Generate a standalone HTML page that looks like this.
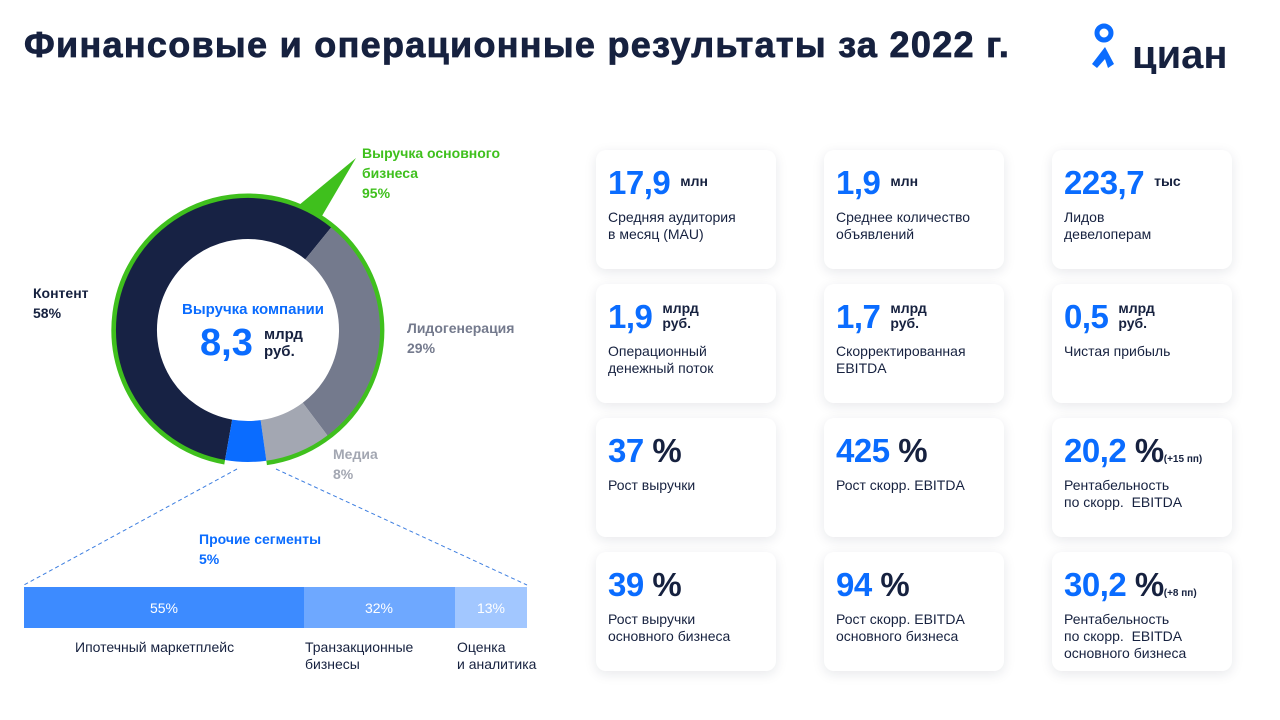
<!DOCTYPE html><html><head><meta charset="utf-8"><style>
body{margin:0;width:1280px;height:720px;background:#fff;font-family:"Liberation Sans","DejaVu Sans",sans-serif;position:relative;overflow:hidden;color:#16213f}
.a{position:absolute}
h1{position:absolute;left:24px;top:24px;margin:0;font-size:36px;font-weight:900;color:#16213f;letter-spacing:1.3px;white-space:nowrap;-webkit-text-stroke:0.8px #16213f}
.card{position:absolute;width:180px;height:119px;background:#fff;border-radius:10px;box-shadow:0 3px 12px rgba(20,30,60,0.10)}
.num{position:absolute;left:12px;top:14px;font-size:33px;font-weight:700;color:#0a6cff;letter-spacing:-0.5px;white-space:nowrap}
.num span{color:#16213f}
.u{font-size:14px;font-weight:700;color:#16213f;display:inline-block;vertical-align:top;letter-spacing:0;line-height:15px;margin-left:10px;margin-top:10px}
.d{position:absolute;left:12px;top:59px;font-size:14px;line-height:17px;color:#16213f}
.lbl{position:absolute;font-size:14px;font-weight:700;line-height:20px}
</style></head><body>
<h1>Финансовые и операционные результаты за 2022 г.</h1>
<svg class="a" style="left:1088px;top:22px" width="150" height="52">
<circle cx="16" cy="11" r="7" fill="none" stroke="#0a6cff" stroke-width="5"/>
<path d="M4 42 L17 25 L26 42 L20 46 L17 37 L9 46 Z" fill="#0a6cff"/>
<text x="44" y="46" font-family="Liberation Sans" font-weight="700" font-size="40" fill="#16213f">циан</text>
</svg>
<svg class="a" style="left:0;top:0" width="600" height="720">
<path d="M298.2 205.8 L356 158 L321 217.6 Z" fill="#3fc01d"/>
<path d="M224.7 462 A134 134 0 1 1 266.6 462.7" fill="none" stroke="#3fc01d" stroke-width="5"/>
<path d="M228.6 439.8 A111.5 111.5 0 1 1 318.2 243.4" fill="none" stroke="#172244" stroke-width="41"/>
<path d="M318.2 243.4 A111.5 111.5 0 0 1 315.1 419.1" fill="none" stroke="#747a8d" stroke-width="41"/>
<path d="M315.1 419.1 A111.5 111.5 0 0 1 263.5 440.4" fill="none" stroke="#a3a7b2" stroke-width="41"/>
<path d="M263.5 440.4 A111.5 111.5 0 0 1 228.6 439.8" fill="none" stroke="#0a6cff" stroke-width="41"/>
<line x1="237" y1="469" x2="24" y2="585" stroke="#3d7ee0" stroke-dasharray="4 3"/>
<line x1="276" y1="469" x2="527" y2="585" stroke="#3d7ee0" stroke-dasharray="4 3"/>
<rect x="24" y="587" width="280" height="41" fill="#3d8bff"/>
<rect x="304" y="587" width="151" height="41" fill="#6ea8ff"/>
<rect x="455" y="587" width="72" height="41" fill="#a2c7ff"/>
<g font-family="Liberation Sans" font-size="14" fill="#fff" text-anchor="middle">
<text x="164" y="613">55%</text><text x="379" y="613">32%</text><text x="491" y="613">13%</text></g>
<g font-family="Liberation Sans" font-size="14" fill="#16213f">
<text x="75" y="652">Ипотечный маркетплейс</text>
<text x="305" y="652">Транзакционные</text><text x="305" y="669">бизнесы</text>
<text x="457" y="652">Оценка</text><text x="457" y="669">и аналитика</text></g>
</svg>
<div class="lbl" style="left:362px;top:143px;color:#3fc01d">Выручка основного<br>бизнеса<br>95%</div>
<div class="lbl" style="left:33px;top:283px;color:#16213f">Контент<br>58%</div>
<div class="lbl" style="left:407px;top:318px;color:#747a8d">Лидогенерация<br>29%</div>
<div class="lbl" style="left:333px;top:444px;color:#a3a7b2">Медиа<br>8%</div>
<div class="lbl" style="left:199px;top:529px;color:#0a6cff">Прочие сегменты<br>5%</div>
<div class="lbl" style="left:168px;top:300px;color:#0a6cff;font-size:15px;width:170px;text-align:center">Выручка компании</div>
<div class="a" style="left:200px;top:322px;font-size:38px;font-weight:700;color:#0a6cff">8,3</div>
<div class="a" style="left:264px;top:326px;font-size:15px;font-weight:700;line-height:17px">млрд<br>руб.</div>

<div class="card" style="left:596px;top:150px"><div class="num">17,9<span class="u">млн</span></div><div class="d">Средняя аудитория<br>в месяц (MAU)</div></div>
<div class="card" style="left:824px;top:150px"><div class="num">1,9<span class="u">млн</span></div><div class="d">Среднее количество<br>объявлений</div></div>
<div class="card" style="left:1052px;top:150px"><div class="num">223,7<span class="u">тыс</span></div><div class="d">Лидов<br>девелоперам</div></div>

<div class="card" style="left:596px;top:284px"><div class="num">1,9<span class="u" style="margin-top:3px">млрд<br>руб.</span></div><div class="d">Операционный<br>денежный поток</div></div>
<div class="card" style="left:824px;top:284px"><div class="num">1,7<span class="u" style="margin-top:3px">млрд<br>руб.</span></div><div class="d">Скорректированная<br>EBITDA</div></div>
<div class="card" style="left:1052px;top:284px"><div class="num">0,5<span class="u" style="margin-top:3px">млрд<br>руб.</span></div><div class="d">Чистая прибыль</div></div>

<div class="card" style="left:596px;top:418px"><div class="num">37 <span>%</span></div><div class="d">Рост выручки</div></div>
<div class="card" style="left:824px;top:418px"><div class="num">425 <span>%</span></div><div class="d">Рост скорр. EBITDA</div></div>
<div class="card" style="left:1052px;top:418px"><div class="num">20,2 <span>%</span><span style="font-size:10px;letter-spacing:0;color:#16213f;font-weight:700">(+15 пп)</span></div><div class="d">Рентабельность<br>по скорр.&nbsp; EBITDA</div></div>

<div class="card" style="left:596px;top:552px"><div class="num">39 <span>%</span></div><div class="d">Рост выручки<br>основного бизнеса</div></div>
<div class="card" style="left:824px;top:552px"><div class="num">94 <span>%</span></div><div class="d">Рост скорр. EBITDA<br>основного бизнеса</div></div>
<div class="card" style="left:1052px;top:552px"><div class="num">30,2 <span>%</span><span style="font-size:10px;letter-spacing:0;color:#16213f;font-weight:700">(+8 пп)</span></div><div class="d">Рентабельность<br>по скорр.&nbsp; EBITDA<br>основного бизнеса</div></div>
</body></html>
